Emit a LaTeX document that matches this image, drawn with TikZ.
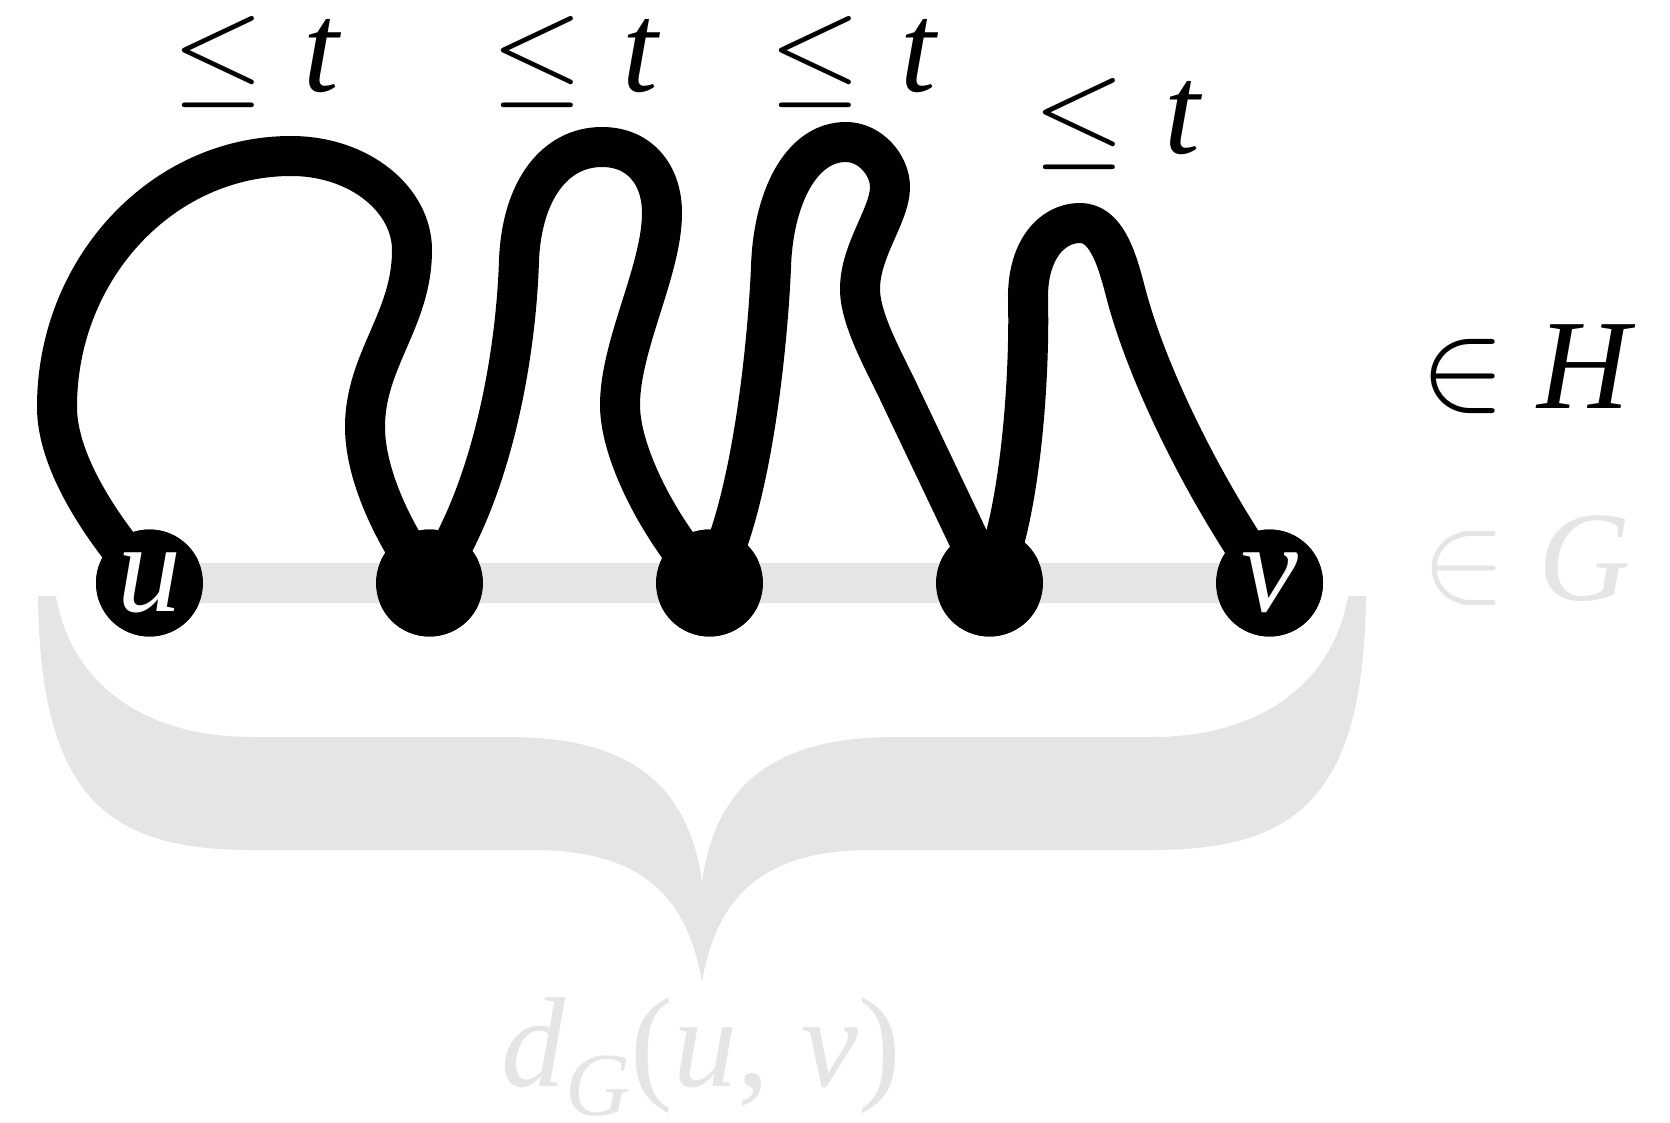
\documentclass[tikz,border=0pt]{standalone}
\usepackage{fix-cm}
\usepackage{fontspec}
\setmainfont{Liberation Serif}[ItalicFont={Liberation Serif Italic}]
\definecolor{lightg}{gray}{0.9}
\tikzset{
  strand/.style={line width=40pt, line join=round, line cap=round},
  vert/.style={circle, fill=black, minimum size=107pt, inner sep=0pt, text=white},
  lbl/.style={inner sep=0pt, anchor=base},
  band/.style={line width=40pt, draw=lightg},
}
\newcommand{\leqsym}{{\fontsize{118}{120}\selectfont$\leq$}}
\begin{document}
\begin{tikzpicture}[x=1pt, y=-1pt, font=\fontsize{128}{130}\selectfont]
\useasboundingbox (0,0) rectangle (1670,1122);
% gray brace
\fill[lightg] (38,596) .. controls (40,800) and (110,850) .. (252,850) -- (533,850)
  .. controls (645,850) and (688,900) .. (702,982)
  .. controls (716,900) and (759,850) .. (871,850) -- (1152,850)
  .. controls (1294,850) and (1364,800) .. (1366,596) -- (1348,596)
  .. controls (1334,680) and (1264,737) .. (1152,737) -- (895,737)
  .. controls (780,737) and (716,780) .. (702,882)
  .. controls (688,780) and (624,737) .. (509,737) -- (252,737)
  .. controls (140,737) and (70,680) .. (56,596) -- cycle;
% vertices
\path (149.5,583) node[vert] (u) {}
      (429.5,583) node[vert] (n2) {}
      (709.5,583) node[vert] (n3) {}
      (989.5,583) node[vert] (n4) {}
      (1269.5,583) node[vert] (v) {};
% gray path in G
\draw[band] (u.center) -- (v.center);
% black walks in H
\draw[strand] (u.center) .. controls (115,545) and (57,470) .. (57,407)
  .. controls (57,269) and (162,156) .. (291,156)
  .. controls (360,156) and (412,200) .. (412,250)
  .. controls (412,320) and (365,360) .. (365,427)
  .. controls (365,480) and (400,545) .. (n2.center);
\draw[strand] (n2.center) .. controls (490,500) and (516,360) .. (519,260)
  .. controls (522,190) and (555,147) .. (602,147)
  .. controls (640,147) and (662,175) .. (662,213)
  .. controls (662,270) and (620,345) .. (620,405)
  .. controls (620,460) and (670,545) .. (n3.center);
\draw[strand] (n3.center) .. controls (752,510) and (768,340) .. (771,267)
  .. controls (773,200) and (800,142) .. (846,142)
  .. controls (870,142) and (890,165) .. (890,187)
  .. controls (890,215) and (860,250) .. (860,289)
  .. controls (860,320) and (885,363) .. (900,395)
  -- (n4.center);
\draw[strand] (n4.center) .. controls (1020,520) and (1030,380) .. (1028,300)
  .. controls (1027,250) and (1052,223) .. (1080,223)
  .. controls (1105,223) and (1116,255) .. (1125,290)
  .. controls (1148,380) and (1210,500) .. (v.center);
% redraw vertices on top
\foreach \p/\t in {u/u, n2/, n3/, n4/, v/v}
  \node[vert] at (\p) {\textit{\t}};
% labels
\node[lbl] (l1) at (257,91) {\leqsym\hspace{0.3em}\textit{t}};
\node[lbl] (l2) at (576,91) {\leqsym\hspace{0.3em}\textit{t}};
\node[lbl] (l3) at (854,91) {\leqsym\hspace{0.3em}\textit{t}};
\node[lbl] (l4) at (1118,153) {\leqsym\hspace{0.3em}\textit{t}};
\node[lbl] (inH) at (1528,408) {$\in$\hspace{0.25em}\textit{H}};
\node[lbl, text=lightg] (inG) at (1526,600) {$\in$\hspace{0.25em}\textit{G}};
\node[lbl, text=lightg] (dist) at (701,1086) {\textit{d}\raisebox{-0.23em}{\fontsize{90}{90}\selectfont\textit{G}}(\textit{u}, \textit{v})};
\end{tikzpicture}
\end{document}
